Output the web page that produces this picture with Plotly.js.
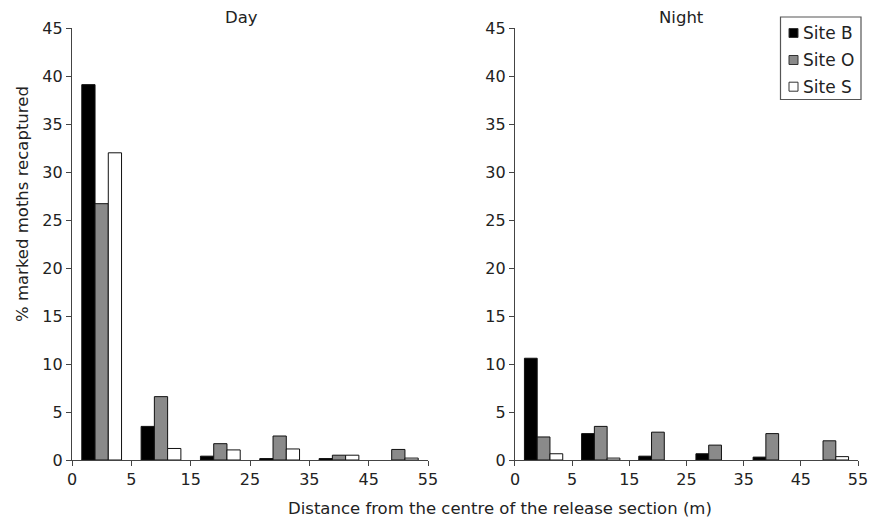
<!DOCTYPE html>
<html>
<head>
<meta charset="utf-8">
<script src="https://cdn.plot.ly/plotly-3.0.1.min.js"></script>
<style>html,body{margin:0;padding:0;background:#fff}#chart{width:870px;height:522px}</style>
</head>
<body>
<div id="chart"></div>
<script>
// Distance classes (group index centres), tick labels at class boundaries
const groupCentres = [0.5, 1.5, 2.5, 3.5, 4.5, 5.5];
const boundaryTicks = [0, 1, 2, 3, 4, 5, 6];
const boundaryLabels = ["0", "5", "15", "25", "35", "45", "55"];
const siteNames = ["Site B", "Site O", "Site S"];

// Day recaptures (%)
const daySiteB = [39.1, 3.5, 0.4, 0.15, 0.15, 0];
const daySiteO = [26.7, 6.6, 1.7, 2.5, 0.5, 1.1];
const daySiteS = [32.0, 1.2, 1.05, 1.15, 0.5, 0.2];

// Night recaptures (%)
const nightSiteB = [10.6, 2.75, 0.4, 0.65, 0.3, 0];
const nightSiteO = [2.4, 3.5, 2.9, 1.55, 2.75, 2.0];
const nightSiteS = [0.65, 0.2, 0, 0, 0, 0.35];

const fills = ["#000000", "#8a8a8a", "#ffffff"];
const font = "DejaVu Sans, Verdana, sans-serif";
const txt = "#222";

function tr(y, i, xa, ya) {
  return {
    type: "bar", x: groupCentres,
    y: y.map(v => (v === 0 ? null : v)), // zero classes draw no bar
    name: siteNames[i], xaxis: xa, yaxis: ya, showlegend: false,
    marker: {color: fills[i], line: {color: "#111", width: 1}},
    hoverinfo: "x+y"
  };
}

const data = [
  tr(daySiteB, 0, "x", "y"),
  tr(daySiteO, 1, "x", "y"),
  tr(daySiteS, 2, "x", "y"),
  tr(nightSiteB, 0, "x2", "y2"),
  tr(nightSiteO, 1, "x2", "y2"),
  tr(nightSiteS, 2, "x2", "y2")
];

const xax = (dom, anchor) => ({
  domain: dom, anchor: anchor, range: [0, 6], tickmode: "array",
  tickvals: boundaryTicks, ticktext: boundaryLabels,
  showline: true, linecolor: "#444", linewidth: 1.2,
  ticks: "outside", ticklen: 5, tickcolor: "#444",
  showgrid: false, zeroline: false,
  tickfont: {family: font, size: 16, color: txt}, fixedrange: true
});
const yax = (anchor) => ({
  domain: [0.11877, 0.94636], anchor: anchor, range: [0, 45], dtick: 5,
  showline: true, linecolor: "#444", linewidth: 1.2,
  ticks: "outside", ticklen: 5, tickcolor: "#444",
  showgrid: false, zeroline: false,
  tickfont: {family: font, size: 16, color: txt}, fixedrange: true
});

// px helpers for decoration placement
const px = v => v / 870, py = v => 1 - v / 522;

const ann = [
  {text: "Day", x: 242, y: 18},
  {text: "Night", x: 681, y: 18},
  {text: "% marked moths recaptured", x: 23, y: 204, textangle: -90},
  {text: "Distance from the centre of the release section (m)", x: 500, y: 508}
].map(a => Object.assign(a, {
  x: px(a.x), y: py(a.y), xref: "paper", yref: "paper", showarrow: false,
  xanchor: "center", yanchor: "middle",
  font: {family: font, size: 16.5, color: txt}
}));

// Legend (drawn as decoration)
const legendY = [33, 60, 86.7];
siteNames.forEach((n, i) => ann.push({
  text: n, x: px(801), y: py(legendY[i]), xref: "paper", yref: "paper",
  showarrow: false, xanchor: "left", yanchor: "middle",
  font: {family: font, size: 17, color: txt}
}));
const shapes = [{
  type: "rect", xref: "paper", yref: "paper",
  x0: px(780.5), x1: px(861), y0: py(17), y1: py(99.5),
  line: {color: "#555", width: 1.2}, fillcolor: "rgba(0,0,0,0)"
}];
siteNames.forEach((n, i) => shapes.push({
  type: "rect", xref: "paper", yref: "paper",
  x0: px(789), x1: px(798), y0: py(legendY[i] - 4.5), y1: py(legendY[i] + 4.5),
  line: {color: "#333", width: 1}, fillcolor: fills[i]
}));

const layout = {
  width: 870, height: 522,
  margin: {l: 0, r: 0, t: 0, b: 0},
  paper_bgcolor: "#fff", plot_bgcolor: "#fff",
  barmode: "group", bargap: 0.33, bargroupgap: 0,
  showlegend: false,
  font: {family: font, size: 16, color: txt},
  xaxis: xax([0.08276, 0.49195], "y"),
  yaxis: yax("x"),
  xaxis2: xax([0.59195, 0.98621], "y2"),
  yaxis2: yax("x2"),
  annotations: ann,
  shapes: shapes
};

Plotly.newPlot("chart", data, layout, {displayModeBar: false, staticPlot: true});
</script>
</body>
</html>
